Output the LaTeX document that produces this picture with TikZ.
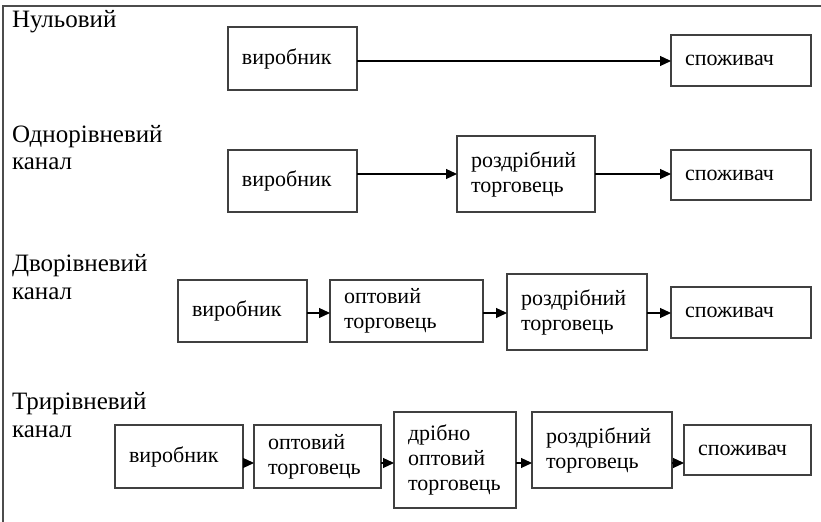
\documentclass[tikz,border=0pt]{standalone}
\usepackage{fontspec}
\setmainfont{Liberation Serif}
\usetikzlibrary{arrows.meta,positioning}

\begin{document}
\begin{tikzpicture}[x=0.5pt,y=-0.5pt,
  every node/.style={inner sep=0pt,outer sep=0pt},
  box/.style={draw=black!75,line width=0.9pt,inner xsep=7pt,align=left,
    anchor=north west,font=\fontsize{11}{12.5}\selectfont},
  lbl/.style={anchor=base west,font=\fontsize{12.5}{13.5}\selectfont},
  arr/.style={-{Triangle[length=5.5pt,width=5pt]},line width=0.6pt}]
  \useasboundingbox (0,0) rectangle (821,522);
  % frame, open to the right and below
  \draw[black!70,line width=0.9pt] (3,522) -- (3,6) -- (821,6);

  % Zero level
  \node[lbl] (lbl0) at (12,28) {Нульовий};
  \node[box,text width=50.5pt,minimum height=31.5pt] (prod0) at (228,27) {виробник};
  \node[box,text width=56pt,minimum height=25.5pt] (cons0) at (671,35) {споживач};
  \coordinate (y0) at (0,61);
  \draw[arr] (prod0.east |- y0) -- (cons0.west |- y0);

  % One level
  \node[lbl] (lbl1) at (12,143) {Однорівневий};
  \node[lbl] (lbl1b) at (12,170) {канал};
  \node[box,text width=50.5pt,minimum height=31pt] (prod1) at (228,150) {виробник};
  \node[box,text width=55pt,minimum height=38pt] (ret1) at (457,136) {роздрібний\\торговець};
  \node[box,text width=56pt,minimum height=25pt] (cons1) at (671,150) {споживач};
  \coordinate (y1) at (0,174);
  \draw[arr] (prod1.east |- y1) -- (ret1.west |- y1);
  \draw[arr] (ret1.east |- y1) -- (cons1.west |- y1);

  % Two levels
  \node[lbl] (lbl2) at (12,272) {Дворівневий};
  \node[lbl] (lbl2b) at (12,300) {канал};
  \node[box,text width=50.5pt,minimum height=31pt] (prod2) at (178,280) {виробник};
  \node[box,text width=62.5pt,minimum height=31pt] (whole2) at (330,280) {оптовий\\торговець};
  \node[box,text width=56pt,minimum height=38pt] (ret2) at (507,274) {роздрібний\\торговець};
  \node[box,text width=56pt,minimum height=25.5pt] (cons2) at (671,287) {споживач};
  \coordinate (y2) at (0,313);
  \draw[arr] (prod2.east |- y2) -- (whole2.west |- y2);
  \draw[arr] (whole2.east |- y2) -- (ret2.west |- y2);
  \draw[arr] (ret2.east |- y2) -- (cons2.west |- y2);

  % Three levels
  \node[lbl] (lbl3) at (12,410) {Трирівневий};
  \node[lbl] (lbl3b) at (12,438) {канал};
  \node[box,text width=50pt,minimum height=31.5pt] (prod3) at (115,425) {виробник};
  \node[box,text width=49.5pt,minimum height=31.5pt] (whole3) at (254,425) {оптовий\\торговець};
  \node[box,text width=47pt,minimum height=48pt] (small3) at (394,412) {дрібно\\оптовий\\торговець};
  \node[box,text width=56pt,minimum height=38pt] (ret3) at (532,412) {роздрібний\\торговець};
  \node[box,text width=49.5pt,minimum height=25pt] (cons3) at (684,425) {споживач};
  \coordinate (y3) at (0,463);
  \draw[arr] (prod3.east |- y3) -- (whole3.west |- y3);
  \draw[arr] (whole3.east |- y3) -- (small3.west |- y3);
  \draw[arr] (small3.east |- y3) -- (ret3.west |- y3);
  \draw[arr] (ret3.east |- y3) -- (cons3.west |- y3);
\end{tikzpicture}
\end{document}
